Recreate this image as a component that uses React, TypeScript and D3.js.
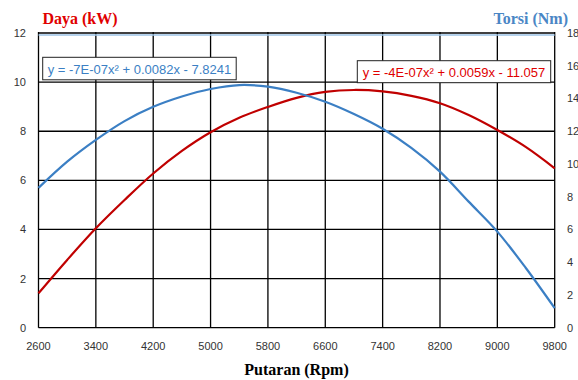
import React from "react";
import * as d3 from "d3";

const rpm = [2600, 3000, 3400, 3800, 4200, 4600, 5000, 5400, 5800, 6200, 6600, 7000, 7400, 7800, 8200, 8600, 9000, 9400, 9800];
const daya = [1.40, 2.76, 4.05, 5.2, 6.28, 7.2, 7.96, 8.55, 8.99, 9.36, 9.6, 9.68, 9.62, 9.44, 9.14, 8.66, 8.05, 7.35, 6.49];
const torsi = [8.54, 10.14, 11.47, 12.62, 13.49, 14.12, 14.58, 14.82, 14.72, 14.35, 13.8, 13.05, 12.15, 10.98, 9.53, 7.7, 5.87, 3.63, 1.19];
const xTicks = [2600, 3400, 4200, 5000, 5800, 6600, 7400, 8200, 9000, 9800];
const leftTicks = [0, 2, 4, 6, 8, 10, 12];
const rightTicks = [0, 2, 4, 6, 8, 10, 12, 14, 16, 18];
const eqTorsi = "y = -7E-07x² + 0.0082x - 7.8241";
const eqDaya = "y = -4E-07x² + 0.0059x - 11.057";

export default function App() {
  const W = 578, H = 380;
  const L = 38.5, R = 554.7, T = 33, B = 327.7;
  const x = d3.scaleLinear().domain([2600, 9800]).range([L, R]);
  const yL = d3.scaleLinear().domain([0, 12]).range([B, T]);
  const yR = d3.scaleLinear().domain([0, 18]).range([B, T]);
  const lineD = d3.line<number>().x((_, i) => x(rpm[i])).y((d) => yL(d)).curve(d3.curveCatmullRom.alpha(0.5));
  const lineT = d3.line<number>().x((_, i) => x(rpm[i])).y((d) => yR(d)).curve(d3.curveCatmullRom.alpha(0.5));
  const sans = "'Liberation Sans', Arial, sans-serif";
  const serif = "'Liberation Serif', 'Times New Roman', serif";
  return (
    <svg width={W} height={H} style={{ position: "absolute", left: 0, top: 0, background: "#fff" }}>
      <rect x={0} y={0} width={W} height={H} fill="#fff" />
      {xTicks.map((t) => (
        <line key={"vx" + t} x1={x(t)} x2={x(t)} y1={T - 1} y2={B} stroke="#000" strokeWidth={1.3} />
      ))}
      {leftTicks.map((t) => (
        <line key={"hy" + t} x1={L} x2={R} y1={yL(t)} y2={yL(t)} stroke="#000" strokeWidth={1.3} />
      ))}
      <line x1={L} x2={R} y1={T + 2} y2={T + 2} stroke="#9dc3e6" strokeWidth={1.3} />
      <path d={lineD(daya) || ""} fill="none" stroke="#c00000" strokeWidth={2.2} />
      <path d={lineT(torsi) || ""} fill="none" stroke="#3b7fc4" strokeWidth={2.2} />
      {leftTicks.map((t) => (
        <text key={"lt" + t} x={26} y={yL(t) + 4} textAnchor="end" fontFamily={sans} fontSize={11} fill="#333">{t}</text>
      ))}
      {rightTicks.map((t) => (
        <text key={"rt" + t} x={567} y={yR(t) + 4} textAnchor="start" fontFamily={sans} fontSize={11} fill="#333">{t}</text>
      ))}
      {xTicks.map((t) => (
        <text key={"xt" + t} x={x(t)} y={350} textAnchor="middle" fontFamily={sans} fontSize={11} fill="#333">{t}</text>
      ))}
      <text x={80} y={24} textAnchor="middle" fontFamily={serif} fontWeight="bold" fontSize={16} fill="#e00000">Daya (kW)</text>
      <text x={568} y={24} textAnchor="end" fontFamily={serif} fontWeight="bold" fontSize={16} fill="#4a86c5">Torsi (Nm)</text>
      <text x={296.5} y={375} textAnchor="middle" fontFamily={serif} fontWeight="bold" fontSize={16} fill="#000">Putaran (Rpm)</text>
      <rect x={42.7} y={57.3} width={193.5} height={22.5} fill="#fff" stroke="#222" strokeWidth={1} />
      <text x={139.5} y={73.5} textAnchor="middle" fontFamily={sans} fontSize={13} fill="#3b7fc4">{eqTorsi}</text>
      <rect x={357.3} y={60.7} width={193.4} height={22} fill="#fff" stroke="#222" strokeWidth={1} />
      <text x={454} y={76.5} textAnchor="middle" fontFamily={sans} fontSize={13} fill="#e00000">{eqDaya}</text>
    </svg>
  );
}
